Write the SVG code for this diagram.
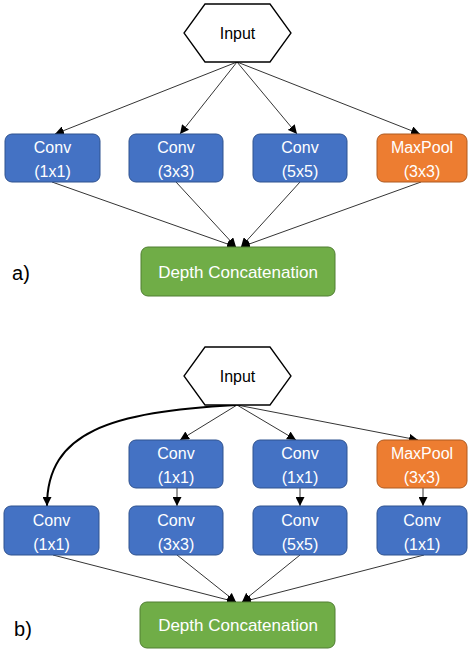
<svg xmlns="http://www.w3.org/2000/svg" width="468" height="650" viewBox="0 0 468 650">
<style>
.t{font-family:"Liberation Sans",Arial,sans-serif;font-size:16px;text-anchor:middle}
.big{font-size:17px}
.lab{font-size:20px}
.w{fill:#ffffff}
.k{fill:#000000}
.blue{fill:#4472C4;stroke:#2F528F;stroke-width:1}
.orange{fill:#ED7D31;stroke:#AE5A21;stroke-width:1}
.green{fill:#70AD47;stroke:#507E32;stroke-width:1}
.hex{fill:#ffffff;stroke:#000000;stroke-width:1.3}
.c{fill:none;stroke:#000000;stroke-width:0.8;marker-end:url(#ah)}
.cb{fill:none;stroke:#000000;stroke-width:2;marker-end:url(#ah)}
</style>
<defs>
<marker id="ah" viewBox="0 0 10 10" refX="10" refY="5" markerWidth="9" markerHeight="9" markerUnits="userSpaceOnUse" orient="auto">
<path d="M0,0 L10,5 L0,10 z" fill="#000"/>
</marker>
</defs>

<g id="connectors">
<line class="c" x1="237" y1="62" x2="55" y2="134"/>
<line class="c" x1="237" y1="62" x2="180" y2="134"/>
<line class="c" x1="237" y1="62" x2="297" y2="134"/>
<line class="c" x1="237" y1="62" x2="420" y2="134"/>
<line class="c" x1="52" y1="182" x2="236" y2="247"/>
<line class="c" x1="176" y1="182" x2="236" y2="247"/>
<line class="c" x1="300" y1="182" x2="241" y2="247"/>
<line class="c" x1="421" y1="182" x2="241" y2="247"/>
<path class="cb" d="M236,405 C110,412 47,432 47,506"/>
<line class="c" x1="237" y1="405" x2="180" y2="440"/>
<line class="c" x1="237" y1="405" x2="296" y2="440"/>
<line class="c" x1="237" y1="405" x2="418" y2="440"/>
<line class="c" x1="177" y1="488" x2="177" y2="506"/>
<line class="c" x1="300" y1="488" x2="300" y2="506"/>
<line class="c" x1="423" y1="488" x2="423" y2="506"/>
<line class="c" x1="53" y1="555" x2="236" y2="602"/>
<line class="c" x1="177" y1="555" x2="236" y2="602"/>
<line class="c" x1="300" y1="555" x2="242" y2="602"/>
<line class="c" x1="424" y1="555" x2="242" y2="602"/>
</g>

<g id="a_input">
<polygon class="hex" points="205,4 270,4 291,33 270,62 205,62 184,33"/>
<text class="t k" x="237.5" y="39">Input</text>
</g>
<g id="a_conv1">
<rect class="blue" x="5" y="134" width="95" height="48" rx="7"/>
<text class="t w" x="52.5" y="153">Conv</text>
<text class="t w" x="52.5" y="177">(1x1)</text>
</g>
<g id="a_conv3">
<rect class="blue" x="129" y="134" width="94" height="48" rx="7"/>
<text class="t w" x="176" y="153">Conv</text>
<text class="t w" x="176" y="177">(3x3)</text>
</g>
<g id="a_conv5">
<rect class="blue" x="253" y="134" width="94" height="48" rx="7"/>
<text class="t w" x="300" y="153">Conv</text>
<text class="t w" x="300" y="177">(5x5)</text>
</g>
<g id="a_maxpool">
<rect class="orange" x="377" y="134" width="90" height="48" rx="7"/>
<text class="t w" x="422" y="153">MaxPool</text>
<text class="t w" x="422" y="177">(3x3)</text>
</g>
<g id="a_concat">
<rect class="green" x="141" y="247" width="194" height="49" rx="7"/>
<text class="t w big" x="238" y="278">Depth Concatenation</text>
</g>
<text class="t k lab" x="21" y="280">a)</text>

<g id="b_input">
<polygon class="hex" points="205,347 270,347 291,376 270,405 205,405 184,376"/>
<text class="t k" x="237.5" y="382">Input</text>
</g>
<g id="b_red1">
<rect class="blue" x="129" y="440" width="94" height="48" rx="7"/>
<text class="t w" x="176" y="459">Conv</text>
<text class="t w" x="176" y="483">(1x1)</text>
</g>
<g id="b_red2">
<rect class="blue" x="253" y="440" width="94" height="48" rx="7"/>
<text class="t w" x="300" y="459">Conv</text>
<text class="t w" x="300" y="483">(1x1)</text>
</g>
<g id="b_maxpool">
<rect class="orange" x="377" y="440" width="90" height="48" rx="7"/>
<text class="t w" x="422" y="459">MaxPool</text>
<text class="t w" x="422" y="483">(3x3)</text>
</g>
<g id="b_conv1">
<rect class="blue" x="4" y="506" width="95" height="49" rx="7"/>
<text class="t w" x="51.5" y="526">Conv</text>
<text class="t w" x="51.5" y="550">(1x1)</text>
</g>
<g id="b_conv3">
<rect class="blue" x="129" y="506" width="94" height="49" rx="7"/>
<text class="t w" x="176" y="526">Conv</text>
<text class="t w" x="176" y="550">(3x3)</text>
</g>
<g id="b_conv5">
<rect class="blue" x="253" y="506" width="94" height="49" rx="7"/>
<text class="t w" x="300" y="526">Conv</text>
<text class="t w" x="300" y="550">(5x5)</text>
</g>
<g id="b_convpool">
<rect class="blue" x="377" y="506" width="90" height="49" rx="7"/>
<text class="t w" x="422" y="526">Conv</text>
<text class="t w" x="422" y="550">(1x1)</text>
</g>
<g id="b_concat">
<rect class="green" x="140" y="602" width="195" height="46" rx="7"/>
<text class="t w big" x="238" y="631">Depth Concatenation</text>
</g>
<text class="t k lab" x="23" y="636">b)</text>
</svg>
